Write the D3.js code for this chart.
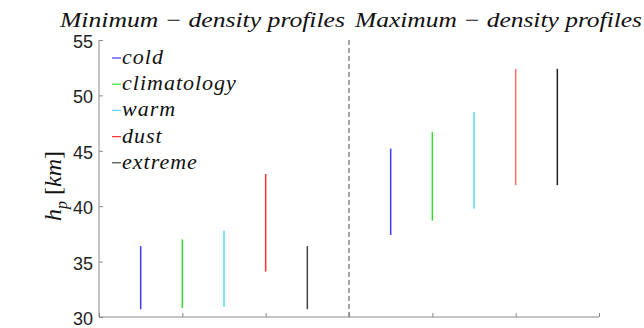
<!DOCTYPE html>
<html>
<head>
<meta charset="utf-8">
<script src="https://cdn.jsdelivr.net/npm/d3@7"></script>
<style>
  body { margin: 0; background: #fff; }
  svg { display: block; }
  .serif { font-family: "Liberation Serif", "Times New Roman", "DejaVu Serif", "Noto Serif", serif; font-style: italic; }
</style>
</head>
<body>
<svg id="chart" width="644" height="328"></svg>
<script>
// Profile categories and their colours
const categories = ["cold", "climatology", "warm", "dust", "extreme"];
const colors = ["#3a3aff", "#33dd33", "#55ddff", "#ff3030", "#444444"];

// Altitude ranges h_p [km] for the minimum-density profiles
const minLow  = [30.7, 30.8, 30.9, 34.1, 30.7];
const minHigh = [36.4, 37.0, 37.8, 42.9, 36.4];

// Altitude ranges h_p [km] for the maximum-density profiles
const maxLow  = [37.4, 38.7, 39.8, 41.9, 41.9];
const maxHigh = [45.2, 46.7, 48.5, 52.4, 52.4];

const maxColors = ["#3a3aff", "#33dd33", "#55ddff", "#ff7070", "#222222"];

const yTicks = [30, 35, 40, 45, 50, 55];
const xTicks = [0, 1, 2, 3, 4, 5, 6];
const titles = ["Minimum − density profiles", "Maximum − density profiles"];

const svg = d3.select("#chart");
const axisColor = "#8a8a8a";

const x = d3.scaleLinear().domain([0, 6]).range([99, 599]);
const y = d3.scaleLinear().domain([30, 55]).range([317, 40]);

// Left axis
const yAxis = svg.append("g")
  .attr("transform", `translate(${x(0)},0)`)
  .call(d3.axisRight(y).tickValues(yTicks).tickSize(4).tickFormat(""));
yAxis.select(".domain").attr("stroke", axisColor).attr("d", `M0,${y(55)}V${y(30)}`);
yAxis.selectAll(".tick line").attr("stroke", axisColor);

svg.append("g").selectAll("text").data(yTicks).join("text")
  .attr("x", 93)
  .attr("y", d => y(d) + 8)
  .attr("text-anchor", "end")
  .attr("font-family", "'Liberation Sans', Arial, sans-serif")
  .attr("font-size", 18)
  .attr("fill", "#222")
  .text(d => d);

// Bottom axis
const xAxis = svg.append("g")
  .attr("transform", `translate(0,${y(30)})`)
  .call(d3.axisTop(x).tickValues(xTicks).tickSize(4).tickFormat(""));
xAxis.select(".domain").attr("stroke", axisColor).attr("d", `M${x(0)},0H${x(6)}`);
xAxis.selectAll(".tick line").attr("stroke", axisColor);

// Separator between the two groups
svg.append("line")
  .attr("x1", x(3)).attr("x2", x(3))
  .attr("y1", y(55)).attr("y2", y(30))
  .attr("stroke", "#777")
  .attr("stroke-width", 1.3)
  .attr("stroke-dasharray", "5,3");

// Range bars
const minData = categories.map((c, i) => ({ c, pos: 0.5 + i * 0.5, lo: minLow[i], hi: minHigh[i], col: colors[i] }));
const maxData = categories.map((c, i) => ({ c, pos: 3.5 + i * 0.5, lo: maxLow[i], hi: maxHigh[i], col: maxColors[i] }));

svg.append("g").selectAll("line").data(minData.concat(maxData)).join("line")
  .attr("x1", d => x(d.pos)).attr("x2", d => x(d.pos))
  .attr("y1", d => y(d.lo)).attr("y2", d => y(d.hi))
  .attr("stroke", d => d.col)
  .attr("stroke-width", 1.5);

// Titles
svg.append("text").attr("class", "serif")
  .attr("x", 60).attr("y", 27)
  .attr("font-size", 21).attr("fill", "#111")
  .attr("textLength", 285).attr("lengthAdjust", "spacingAndGlyphs")
  .text(titles[0]);
svg.append("text").attr("class", "serif")
  .attr("x", 355).attr("y", 27)
  .attr("font-size", 21).attr("fill", "#111")
  .attr("textLength", 287).attr("lengthAdjust", "spacingAndGlyphs")
  .text(titles[1]);

// Y label h_p [km]
const yl = svg.append("text").attr("class", "serif")
  .attr("transform", "translate(61,221) rotate(-90)")
  .attr("font-size", 24).attr("fill", "#111");
yl.append("tspan").text("h");
yl.append("tspan").attr("font-size", 16).attr("dy", 6).text("p");
yl.append("tspan").attr("dy", -6).attr("dx", 6).style("font-style", "normal").text("[");
yl.append("tspan").text("km");
yl.append("tspan").style("font-style", "normal").text("]");

// Legend
const legend = svg.append("g").selectAll("g").data(categories).join("g")
  .attr("transform", (d, i) => `translate(0,${58 + i * 26.2})`);
legend.append("line")
  .attr("x1", 112).attr("x2", 121)
  .attr("y1", 0).attr("y2", 0)
  .attr("stroke", (d, i) => colors[i])
  .attr("stroke-width", 1.2);
legend.append("text").attr("class", "serif")
  .attr("x", 122).attr("y", 6)
  .attr("font-size", 22).attr("letter-spacing", 1).attr("fill", "#111")
  .text(d => d);
</script>
</body>
</html>
